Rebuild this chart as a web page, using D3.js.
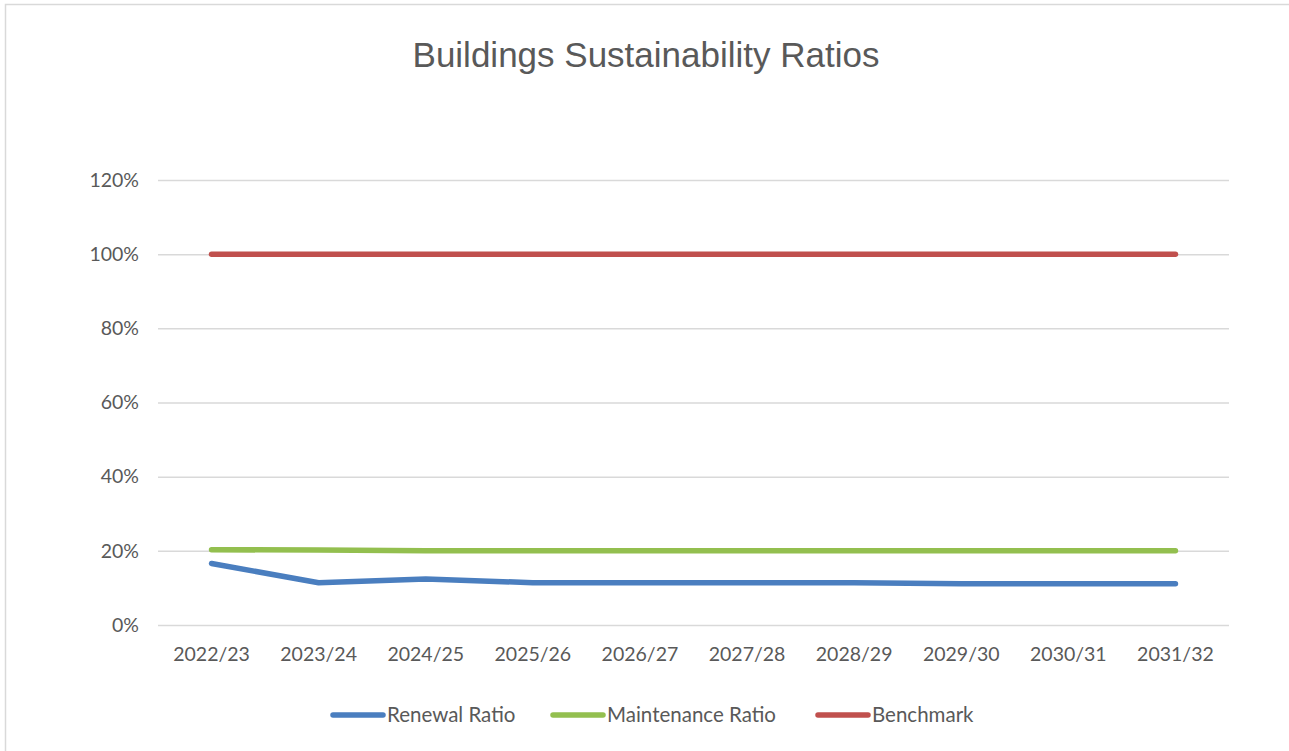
<!DOCTYPE html>
<html>
<head>
<meta charset="utf-8">
<script src="https://cdn.jsdelivr.net/npm/d3@7"></script>
<style>
  body { margin: 0; background: #fff; }
  svg { display: block; }
</style>
</head>
<body>
<svg width="1289" height="751"></svg>
<script>
var years = ['2022/23', '2023/24', '2024/25', '2025/26', '2026/27', '2027/28', '2028/29', '2029/30', '2030/31', '2031/32'];
var renewal = [16.6, 11.4, 12.4, 11.4, 11.4, 11.4, 11.4, 11.1, 11.1, 11.1];
var maintenance = [20.3, 20.2, 20.0, 20.0, 20.0, 20.0, 20.0, 20.0, 20.0, 20.0];
var benchmark = [100, 100, 100, 100, 100, 100, 100, 100, 100, 100];
var yTicks = [0, 20, 40, 60, 80, 100, 120];

var series = [
  { name: 'Renewal Ratio', values: renewal, color: '#4a7ebf' },
  { name: 'Maintenance Ratio', values: maintenance, color: '#93bf4f' },
  { name: 'Benchmark', values: benchmark, color: '#c0504d' }
];

var font = 'Lato, "Open Sans", sans-serif';
var svg = d3.select('svg');

// chart frame
svg.append('rect')
  .attr('x', 5.5).attr('y', 4.5)
  .attr('width', 1300).attr('height', 760)
  .attr('fill', '#fff')
  .attr('stroke', '#d9d9d9')
  .attr('stroke-width', 1.5);

var plotLeft = 158, plotRight = 1229, plotTop = 180, plotBottom = 625;

var x = d3.scaleBand().domain(years).range([plotLeft, plotRight]);
var y = d3.scaleLinear().domain([0, 120]).range([plotBottom, plotTop]);

svg.append('text')
  .attr('x', 646).attr('y', 67)
  .attr('text-anchor', 'middle')
  .attr('font-family', '"Liberation Sans", Arial, sans-serif')
  .attr('font-size', '35px')
  .attr('fill', '#595959')
  .text('Buildings Sustainability Ratios');

// gridlines
var yAxis = d3.axisLeft(y).tickValues(yTicks)
  .tickSize(-(plotRight - plotLeft)).tickPadding(19)
  .tickFormat(function(d) { return d + '%'; });
var gy = svg.append('g').attr('transform', 'translate(' + plotLeft + ',0)').call(yAxis);
gy.select('.domain').remove();
gy.selectAll('.tick line').attr('stroke', '#d9d9d9').attr('stroke-width', 1.5);
gy.selectAll('.tick text')
  .attr('font-family', font).attr('font-size', '19.5px').attr('fill', '#595959');

var xAxis = d3.axisBottom(x).tickSize(0).tickPadding(22);
var gx = svg.append('g').attr('transform', 'translate(0,' + plotBottom + ')').call(xAxis);
gx.select('.domain').remove();
gx.selectAll('.tick text')
  .attr('font-family', font).attr('font-size', '19.5px').attr('fill', '#595959');

var line = d3.line()
  .x(function(d, i) { return x(years[i]) + x.bandwidth() / 2; })
  .y(function(d) { return y(d); });

series.forEach(function(s) {
  svg.append('path')
    .attr('d', line(s.values))
    .attr('fill', 'none')
    .attr('stroke', s.color)
    .attr('stroke-width', 5.5)
    .attr('stroke-linecap', 'round')
    .attr('stroke-linejoin', 'round');
});

// legend
var legendX = [333, 553, 818];
var legend = svg.append('g');
series.forEach(function(s, i) {
  legend.append('line')
    .attr('x1', legendX[i]).attr('x2', legendX[i] + 50)
    .attr('y1', 715).attr('y2', 715)
    .attr('stroke', s.color).attr('stroke-width', 5.5)
    .attr('stroke-linecap', 'round');
  legend.append('text')
    .attr('x', legendX[i] + 54).attr('y', 722)
    .attr('font-family', font).attr('font-size', '20.5px')
    .attr('fill', '#595959')
    .text(s.name);
});
</script>
</body>
</html>
